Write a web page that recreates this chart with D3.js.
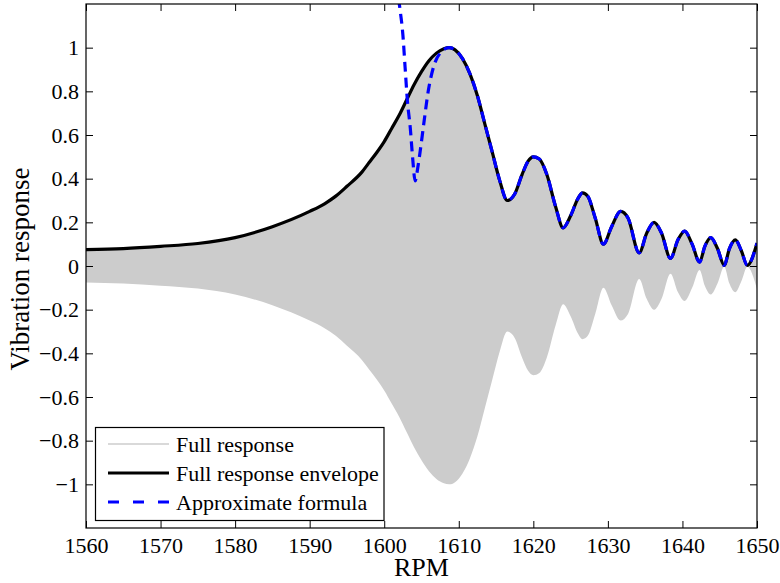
<!DOCTYPE html>
<html>
<head>
<meta charset="utf-8">
<script src="https://cdn.jsdelivr.net/npm/d3@7"></script>
<style>
html,body{margin:0;padding:0;background:#fff;}
svg text{font-family:"Liberation Serif","Times New Roman",serif;fill:#000;}
</style>
</head>
<body>
<svg id="chart" width="780" height="583"></svg>
<script>
// ---- data ----
const envRpm = [1560,1565,1570,1575,1580,1585,1590,1592,1593.5,1595,1597,1598,1599,1600,1601,1602,1603,1604,1605,1606,1607,1608,1608.7,1609.5,1610.5,1611.5,1612.5,1613.5,1614.5,1615.5,1616.5,1617.5,1618.5,1619.3,1620,1620.8,1621.8,1623,1624,1625,1626,1626.6,1627.3,1628.3,1629.4,1630.5,1631.7,1632.7,1634.2,1635.2,1636.2,1637.2,1638.4,1639.4,1640.3,1641.3,1642.3,1643,1643.8,1644.7,1645.6,1646.3,1647.1,1647.9,1648.7,1650];
const envelope = [0.075,0.080,0.090,0.103,0.130,0.180,0.250,0.285,0.320,0.365,0.430,0.475,0.520,0.570,0.630,0.690,0.760,0.830,0.890,0.940,0.975,0.995,1.000,0.990,0.950,0.880,0.780,0.650,0.520,0.390,0.300,0.330,0.420,0.480,0.500,0.490,0.420,0.270,0.175,0.230,0.310,0.335,0.320,0.220,0.100,0.180,0.250,0.220,0.060,0.150,0.200,0.150,0.035,0.120,0.160,0.100,0.018,0.090,0.130,0.080,0.003,0.080,0.120,0.070,0.003,0.105];
const fullLow = [-0.075,-0.080,-0.090,-0.103,-0.130,-0.180,-0.250,-0.285,-0.320,-0.365,-0.430,-0.475,-0.520,-0.570,-0.630,-0.690,-0.760,-0.830,-0.890,-0.940,-0.975,-0.995,-1.000,-0.990,-0.950,-0.880,-0.780,-0.650,-0.520,-0.390,-0.300,-0.330,-0.420,-0.480,-0.500,-0.490,-0.420,-0.270,-0.175,-0.230,-0.310,-0.335,-0.320,-0.220,-0.100,-0.180,-0.250,-0.220,-0.060,-0.150,-0.200,-0.150,-0.035,-0.120,-0.160,-0.100,-0.018,-0.090,-0.130,-0.080,-0.003,-0.080,-0.120,-0.070,-0.003,-0.105];
const approxRpm = [1601.6,1602.1,1602.5,1602.8,1603.1,1603.5,1603.8,1604.15,1604.5,1604.8,1605.3,1605.9,1606.6,1607.5,1608.7,1609.5,1610.5,1611.5,1612.5,1613.5,1614.5,1615.5,1616.5,1617.5,1618.5,1619.3,1620,1620.8,1621.8,1623,1624,1625,1626,1626.6,1627.3,1628.3,1629.4,1630.5,1631.7,1632.7,1634.2,1635.2,1636.2,1637.2,1638.4,1639.4,1640.3,1641.3,1642.3,1643,1643.8,1644.7,1645.6,1646.3,1647.1,1647.9,1648.7,1650];
const approx = [1.30,1.18,1.06,0.91,0.76,0.63,0.50,0.39,0.45,0.52,0.65,0.80,0.91,0.975,1.000,0.990,0.950,0.880,0.780,0.650,0.520,0.390,0.300,0.330,0.420,0.480,0.500,0.490,0.420,0.270,0.175,0.230,0.310,0.335,0.320,0.220,0.100,0.180,0.250,0.220,0.060,0.150,0.200,0.150,0.035,0.120,0.160,0.100,0.018,0.090,0.130,0.080,0.003,0.080,0.120,0.070,0.003,0.105];
const xTicks = [1560,1570,1580,1590,1600,1610,1620,1630,1640,1650];
const yTicks = [-1,-0.8,-0.6,-0.4,-0.2,0,0.2,0.4,0.6,0.8,1];
const legendLabels = ["Full response","Full response envelope","Approximate formula"];

// ---- layout ----
const L=86, R=757, T=4, B=528;
const svg = d3.select("#chart");
const x = d3.scaleLinear().domain([1560,1650]).range([L,R]);
const y = d3.scaleLinear().domain([-1.2,1.2]).range([B,T]);

svg.append("defs").append("clipPath").attr("id","clip")
  .append("rect").attr("x",L).attr("y",T).attr("width",R-L).attr("height",B-T);

const plot = svg.append("g").attr("clip-path","url(#clip)");

const band = envRpm.map((r,i)=>({r, hi:envelope[i], lo:fullLow[i]}));
plot.append("path").datum(band)
  .attr("fill","#cccccc")
  .attr("d", d3.area().x(d=>x(d.r)).y0(d=>y(d.lo)).y1(d=>y(d.hi)).curve(d3.curveMonotoneX));

const envData = envRpm.map((r,i)=>({r, v:envelope[i]}));
plot.append("path").datum(envData)
  .attr("fill","none").attr("stroke","#000").attr("stroke-width",3.2).attr("stroke-linejoin","round")
  .attr("d", d3.line().x(d=>x(d.r)).y(d=>y(d.v)).curve(d3.curveMonotoneX));

const apData = approxRpm.map((r,i)=>({r, v:approx[i]}));
plot.append("path").datum(apData)
  .attr("fill","none").attr("stroke","#0000ff").attr("stroke-width",3.2)
  .attr("stroke-dasharray","10,6")
  .attr("d", d3.line().x(d=>x(d.r)).y(d=>y(d.v)).curve(d3.curveMonotoneX));

// ---- axes (MATLAB style, inward ticks on all sides) ----
const fmt = v => (v<0 ? "\u2212" : "") + d3.format("~g")(Math.abs(+v.toFixed(2)));
const tl = 7;
const axB = svg.append("g").attr("transform",`translate(0,${B})`)
  .call(d3.axisBottom(x).tickValues(xTicks).tickSizeInner(-tl).tickSizeOuter(0).tickPadding(9).tickFormat(d3.format("d")));
const axT = svg.append("g").attr("transform",`translate(0,${T})`)
  .call(d3.axisTop(x).tickValues(xTicks).tickSizeInner(-tl).tickSizeOuter(0).tickFormat(""));
const axL = svg.append("g").attr("transform",`translate(${L},0)`)
  .call(d3.axisLeft(y).tickValues(yTicks).tickSizeInner(-tl).tickSizeOuter(0).tickPadding(7).tickFormat(fmt));
const axR = svg.append("g").attr("transform",`translate(${R},0)`)
  .call(d3.axisRight(y).tickValues(yTicks).tickSizeInner(-tl).tickSizeOuter(0).tickFormat(""));
[axB,axT,axL,axR].forEach(a=>{
  a.select(".domain").remove();
  a.selectAll("line").attr("stroke","#000").attr("stroke-width",1);
  a.selectAll("text").attr("font-size",22).attr("fill","#000");
});
axB.selectAll("text").attr("dy","0.71em");
svg.append("rect").attr("x",L).attr("y",T).attr("width",R-L).attr("height",B-T)
  .attr("fill","none").attr("stroke","#000").attr("stroke-width",1.2);

// axis labels
svg.append("text").attr("x",(L+R)/2).attr("y",576).attr("text-anchor","middle")
  .attr("font-size",26).text("RPM");
svg.append("text").attr("transform",`translate(29,${(T+B)/2 + 3}) rotate(-90)`).attr("text-anchor","middle")
  .attr("font-size",27).text("Vibration response");

// ---- legend ----
const lg = svg.append("g");
lg.append("rect").attr("x",95.5).attr("y",427.5).attr("width",288.5).attr("height",93)
  .attr("fill","#fff").attr("stroke","#000").attr("stroke-width",1.2);
const legStyles = [
  {stroke:"#cccccc", w:1.5, dash:null},
  {stroke:"#000", w:3.2, dash:null},
  {stroke:"#0000ff", w:3.2, dash:"11,14"}
];
const legY = [444, 473, 502];
legendLabels.forEach((lab,i)=>{
  const ln = lg.append("line").attr("x1",108).attr("x2",169).attr("y1",legY[i]).attr("y2",legY[i])
    .attr("stroke",legStyles[i].stroke).attr("stroke-width",legStyles[i].w);
  if(legStyles[i].dash) ln.attr("stroke-dasharray",legStyles[i].dash);
  lg.append("text").attr("x",176).attr("y",legY[i]).attr("dy","0.35em").attr("font-size",22).text(lab);
});
</script>
</body>
</html>
